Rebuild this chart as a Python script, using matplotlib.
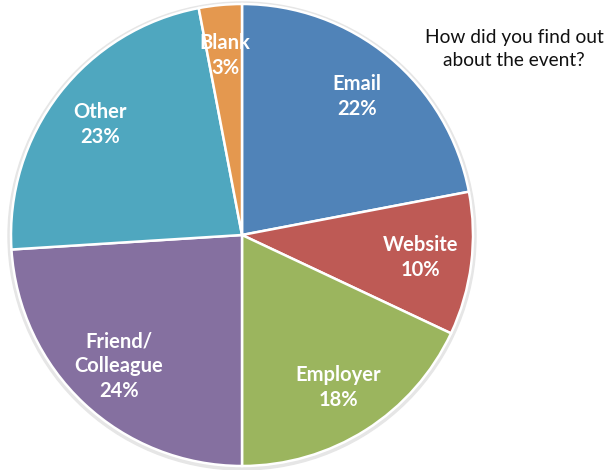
import matplotlib
matplotlib.use("Agg")
import matplotlib.pyplot as plt

categories = ["Email", "Website", "Employer", "Friend/\nColleague", "Other", "Blank"]
shares = [22, 10, 18, 24, 23, 3]
colors = ["#5083B8", "#BE5A55", "#9BB55E", "#8570A0", "#4FA7BF", "#E4984F"]

plt.rcParams["font.family"] = ["Lato", "DejaVu Sans"]

fig = plt.figure(figsize=(6.06, 4.70), dpi=100)
ax = fig.add_axes([0, 0, 1, 1])

center = (242, 235)
radius = 231

# faint shadow behind the pie
shadow = plt.Circle((center[0], center[1] - 1), radius + 3, color="#e6e6e6", zorder=0)
ax.add_patch(shadow)

wedges, _, autotexts = ax.pie(
    shares, colors=colors, startangle=90, counterclock=False,
    center=center, radius=radius, autopct="%d%%", pctdistance=0.78,
    wedgeprops=dict(edgecolor="white", linewidth=1.8),
    textprops=dict(color="white", fontsize=14.5, fontweight="bold"),
    frame=True,
)
ax.set_xlim(0, 606)
ax.set_ylim(0, 470)
ax.set_aspect("equal")
ax.axis("off")

for t, name, v in zip(autotexts, categories, shares):
    t.set_text(f"{name}\n{v}%")
    t.set_ha("center")
    t.set_va("center")
    t.set_linespacing(1.3)

ax.text(514, 421, "How did you find out\nabout the event?", ha="center", va="center",
        fontsize=13.8, color="#111111", linespacing=1.5)

fig.savefig("out.png", dpi=100)
